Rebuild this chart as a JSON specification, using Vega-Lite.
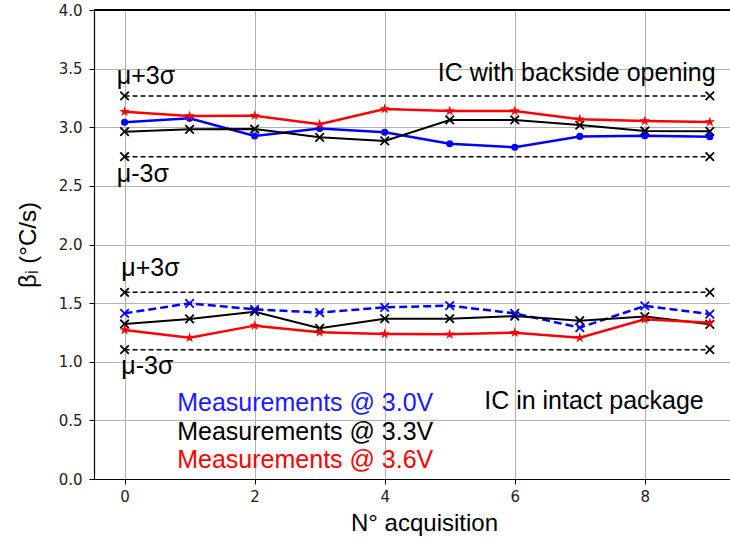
{
  "$schema": "https://vega.github.io/schema/vega-lite/v6.json",
  "width": 636,
  "height": 469,
  "autosize": {"type": "none"},
  "padding": {"left": 94, "top": 10, "right": 0, "bottom": 65},
  "background": "white",
  "config": {
    "view": {"stroke": null},
    "axis": {
      "domainColor": "#000000",
      "domainWidth": 1.2,
      "tickColor": "#000000",
      "tickSize": 5,
      "tickWidth": 1,
      "gridColor": "#b0b0b0",
      "gridWidth": 1,
      "labelFont": "DejaVu Sans",
      "labelFontSize": 15,
      "labelColor": "#222222",
      "titleFont": "Liberation Sans",
      "titleFontSize": 24,
      "titleFontWeight": "normal",
      "titleColor": "#000000"
    }
  },
  "datasets": {
    "pts": [
      {"series": "up30", "x": 0, "y": 3.042}, {"series": "up30", "x": 1, "y": 3.076}, {"series": "up30", "x": 2, "y": 2.925}, {"series": "up30", "x": 3, "y": 2.99}, {"series": "up30", "x": 4, "y": 2.957}, {"series": "up30", "x": 5, "y": 2.86}, {"series": "up30", "x": 6, "y": 2.829}, {"series": "up30", "x": 7, "y": 2.922}, {"series": "up30", "x": 8, "y": 2.928}, {"series": "up30", "x": 9, "y": 2.92},
      {"series": "up33", "x": 0, "y": 2.962}, {"series": "up33", "x": 1, "y": 2.982}, {"series": "up33", "x": 2, "y": 2.985}, {"series": "up33", "x": 3, "y": 2.914}, {"series": "up33", "x": 4, "y": 2.883}, {"series": "up33", "x": 5, "y": 3.062}, {"series": "up33", "x": 6, "y": 3.062}, {"series": "up33", "x": 7, "y": 3.019}, {"series": "up33", "x": 8, "y": 2.968}, {"series": "up33", "x": 9, "y": 2.965},
      {"series": "up36", "x": 0, "y": 3.133}, {"series": "up36", "x": 1, "y": 3.096}, {"series": "up36", "x": 2, "y": 3.099}, {"series": "up36", "x": 3, "y": 3.025}, {"series": "up36", "x": 4, "y": 3.156}, {"series": "up36", "x": 5, "y": 3.139}, {"series": "up36", "x": 6, "y": 3.139}, {"series": "up36", "x": 7, "y": 3.068}, {"series": "up36", "x": 8, "y": 3.053}, {"series": "up36", "x": 9, "y": 3.045},
      {"series": "lo30", "x": 0, "y": 1.413}, {"series": "lo30", "x": 1, "y": 1.498}, {"series": "lo30", "x": 2, "y": 1.447}, {"series": "lo30", "x": 3, "y": 1.419}, {"series": "lo30", "x": 4, "y": 1.464}, {"series": "lo30", "x": 5, "y": 1.478}, {"series": "lo30", "x": 6, "y": 1.413}, {"series": "lo30", "x": 7, "y": 1.291}, {"series": "lo30", "x": 8, "y": 1.476}, {"series": "lo30", "x": 9, "y": 1.407},
      {"series": "lo33", "x": 0, "y": 1.322}, {"series": "lo33", "x": 1, "y": 1.365}, {"series": "lo33", "x": 2, "y": 1.427}, {"series": "lo33", "x": 3, "y": 1.285}, {"series": "lo33", "x": 4, "y": 1.367}, {"series": "lo33", "x": 5, "y": 1.367}, {"series": "lo33", "x": 6, "y": 1.39}, {"series": "lo33", "x": 7, "y": 1.35}, {"series": "lo33", "x": 8, "y": 1.385}, {"series": "lo33", "x": 9, "y": 1.319},
      {"series": "lo36", "x": 0, "y": 1.271}, {"series": "lo36", "x": 1, "y": 1.205}, {"series": "lo36", "x": 2, "y": 1.308}, {"series": "lo36", "x": 3, "y": 1.251}, {"series": "lo36", "x": 4, "y": 1.237}, {"series": "lo36", "x": 5, "y": 1.234}, {"series": "lo36", "x": 6, "y": 1.248}, {"series": "lo36", "x": 7, "y": 1.205}, {"series": "lo36", "x": 8, "y": 1.362}, {"series": "lo36", "x": 9, "y": 1.333},
      {"series": "upPlus", "x": 0, "y": 3.267}, {"series": "upPlus", "x": 9, "y": 3.267},
      {"series": "upMinus", "x": 0, "y": 2.749}, {"series": "upMinus", "x": 9, "y": 2.749},
      {"series": "loPlus", "x": 0, "y": 1.592}, {"series": "loPlus", "x": 9, "y": 1.592},
      {"series": "loMinus", "x": 0, "y": 1.103}, {"series": "loMinus", "x": 9, "y": 1.103}
    ],
    "txt": [
      {"kind": "black", "label": "μ+3σ", "x": -0.12, "y": 3.437},
      {"kind": "black", "label": "μ-3σ", "x": -0.12, "y": 2.601},
      {"kind": "black", "label": "μ+3σ", "x": -0.05, "y": 1.8},
      {"kind": "black", "label": "μ-3σ", "x": -0.05, "y": 0.964},
      {"kind": "right", "label": "IC with backside opening", "x": 9.09, "y": 3.463},
      {"kind": "black", "label": "IC in intact package", "x": 5.53, "y": 0.665},
      {"kind": "blue", "label": "Measurements @ 3.0V", "x": 0.81, "y": 0.648},
      {"kind": "black", "label": "Measurements @ 3.3V", "x": 0.81, "y": 0.401},
      {"kind": "red", "label": "Measurements @ 3.6V", "x": 0.81, "y": 0.162}
    ]
  },
  "data": {"name": "pts"},
  "encoding": {
    "x": {
      "field": "x", "type": "quantitative",
      "scale": {"domain": [-0.47, 9.31], "nice": false, "zero": false},
      "axis": {"values": [0, 2, 4, 6, 8], "format": "d", "title": "N° acquisition", "labelPadding": 5, "titleX": 330, "titleY": 51, "titleBaseline": "alphabetic", "titleAnchor": null}
    },
    "y": {
      "field": "y", "type": "quantitative",
      "scale": {"domain": [0, 4], "nice": false, "zero": false},
      "axis": {"values": [0, 0.5, 1, 1.5, 2, 2.5, 3, 3.5, 4], "format": ".1f", "title": "βᵢ (°C/s)", "labelPadding": 7, "titleX": -66, "titleY": 234.5, "titleBaseline": "middle", "titleAngle": -90}
    }
  },
  "layer": [
    {
      "mark": {"type": "rule", "color": "#000000", "strokeWidth": 1.2},
      "encoding": {"y": {"datum": 4}, "x": null}
    },
    {
      "transform": [{"filter": {"field": "series", "oneOf": ["upPlus", "upMinus", "loPlus", "loMinus"]}}],
      "mark": {"type": "line", "color": "#000000", "strokeWidth": 1.5, "strokeDash": [5, 3]},
      "encoding": {"detail": {"field": "series"}}
    },
    {
      "transform": [{"filter": {"field": "series", "equal": "up30"}}],
      "mark": {"type": "line", "color": "#0000ff", "strokeWidth": 2.5}
    },
    {
      "transform": [{"filter": {"field": "series", "equal": "lo30"}}],
      "mark": {"type": "line", "color": "#0000ff", "strokeWidth": 2.5, "strokeDash": [8, 4]}
    },
    {
      "transform": [{"filter": {"field": "series", "oneOf": ["up33", "lo33"]}}],
      "mark": {"type": "line", "color": "#000000", "strokeWidth": 2},
      "encoding": {"detail": {"field": "series"}}
    },
    {
      "transform": [{"filter": {"field": "series", "oneOf": ["up36", "lo36"]}}],
      "mark": {"type": "line", "color": "#ff0000", "strokeWidth": 2.5},
      "encoding": {"detail": {"field": "series"}}
    },
    {
      "transform": [{"filter": {"field": "series", "oneOf": ["upPlus", "upMinus", "loPlus", "loMinus", "up33", "lo33"]}}],
      "mark": {"type": "point", "shape": "M-1,-1L1,1M-1,1L1,-1", "filled": false, "stroke": "#000000", "strokeWidth": 1.8, "size": 72, "opacity": 1}
    },
    {
      "transform": [{"filter": {"field": "series", "equal": "lo30"}}],
      "mark": {"type": "point", "shape": "M-1,-1L1,1M-1,1L1,-1", "filled": false, "stroke": "#0000ff", "strokeWidth": 1.8, "size": 72, "opacity": 1}
    },
    {
      "transform": [{"filter": {"field": "series", "equal": "up30"}}],
      "mark": {"type": "point", "shape": "circle", "filled": true, "color": "#0000ff", "size": 50, "opacity": 1}
    },
    {
      "transform": [{"filter": {"field": "series", "oneOf": ["up36", "lo36"]}}],
      "mark": {"type": "point", "shape": "M0,-1L0.223,-0.307L0.951,-0.309L0.361,0.117L0.588,0.809L0,0.38L-0.588,0.809L-0.361,0.117L-0.951,-0.309L-0.223,-0.307Z", "filled": true, "color": "#ff0000", "size": 120, "opacity": 1}
    },
    {
      "data": {"name": "txt"},
      "transform": [{"filter": {"field": "kind", "equal": "black"}}],
      "mark": {"type": "text", "align": "left", "baseline": "middle", "font": "Liberation Sans", "fontSize": 25, "color": "#000000"},
      "encoding": {"text": {"field": "label"}}
    },
    {
      "data": {"name": "txt"},
      "transform": [{"filter": {"field": "kind", "equal": "right"}}],
      "mark": {"type": "text", "align": "right", "baseline": "middle", "font": "Liberation Sans", "fontSize": 25, "color": "#000000"},
      "encoding": {"text": {"field": "label"}}
    },
    {
      "data": {"name": "txt"},
      "transform": [{"filter": {"field": "kind", "equal": "blue"}}],
      "mark": {"type": "text", "align": "left", "baseline": "middle", "font": "Liberation Sans", "fontSize": 25, "color": "#1a1aff"},
      "encoding": {"text": {"field": "label"}}
    },
    {
      "data": {"name": "txt"},
      "transform": [{"filter": {"field": "kind", "equal": "red"}}],
      "mark": {"type": "text", "align": "left", "baseline": "middle", "font": "Liberation Sans", "fontSize": 25, "color": "#ff0000"},
      "encoding": {"text": {"field": "label"}}
    }
  ]
}
